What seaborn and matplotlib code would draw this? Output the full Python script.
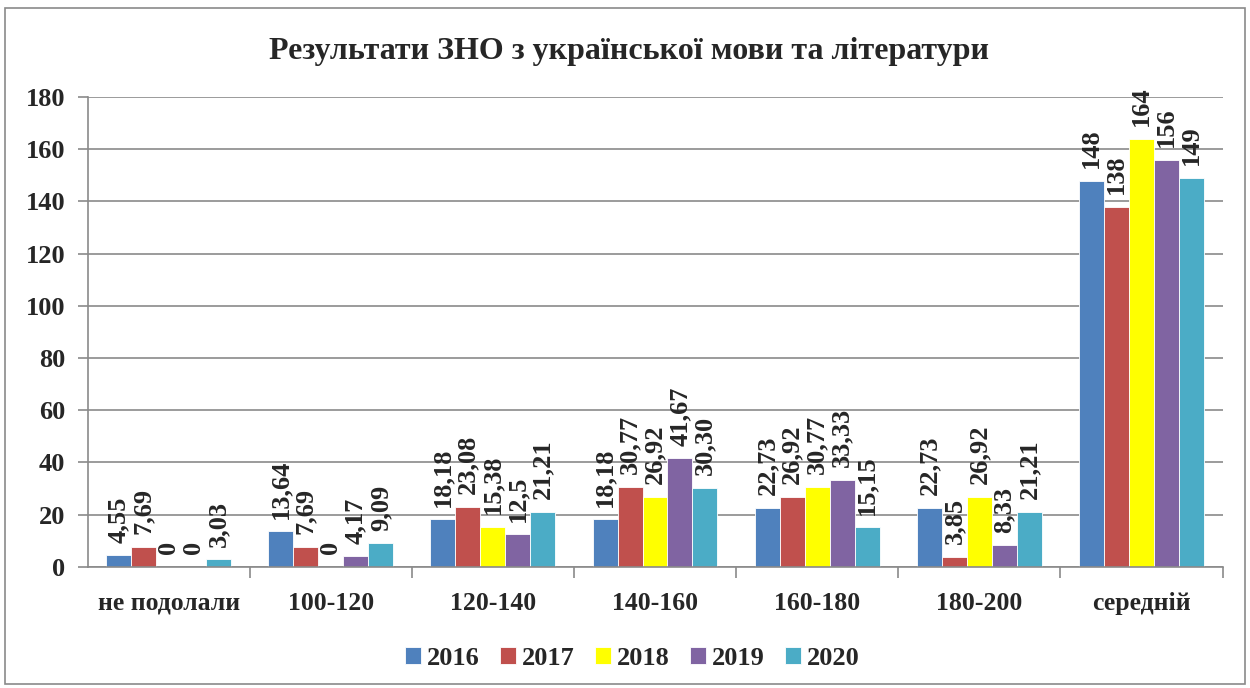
import matplotlib
matplotlib.use('Agg')
import matplotlib.pyplot as plt
from matplotlib.patches import Rectangle
from matplotlib.ticker import FixedLocator, NullFormatter
import seaborn as sns
import pandas as pd

# chart data
categories = ['не подолали', '100-120', '120-140', '140-160', '160-180', '180-200', 'середній']
years = ['2016', '2017', '2018', '2019', '2020']

values_2016 = [4.55, 13.64, 18.18, 18.18, 22.73, 22.73, 148]
values_2017 = [7.69, 7.69, 23.08, 30.77, 26.92, 3.85, 138]
values_2018 = [0, 0, 15.38, 26.92, 30.77, 26.92, 164]
values_2019 = [0, 4.17, 12.5, 41.67, 33.33, 8.33, 156]
values_2020 = [3.03, 9.09, 21.21, 30.30, 15.15, 21.21, 149]

labels_2016 = ['4,55', '13,64', '18,18', '18,18', '22,73', '22,73', '148']
labels_2017 = ['7,69', '7,69', '23,08', '30,77', '26,92', '3,85', '138']
labels_2018 = ['0', '0', '15,38', '26,92', '30,77', '26,92', '164']
labels_2019 = ['0', '4,17', '12,5', '41,67', '33,33', '8,33', '156']
labels_2020 = ['3,03', '9,09', '21,21', '30,30', '15,15', '21,21', '149']

colors = ['#4F81BD', '#C0504D', '#FFFF00', '#8064A2', '#4BACC6']

all_values = [values_2016, values_2017, values_2018, values_2019, values_2020]
all_labels = [labels_2016, labels_2017, labels_2018, labels_2019, labels_2020]

rows = []
for year, vals in zip(years, all_values):
    for cat, v in zip(categories, vals):
        rows.append({'category': cat, 'year': year, 'value': v})
df = pd.DataFrame(rows)

sns.set_theme(style='white')
plt.rcParams['font.family'] = ['Liberation Serif', 'DejaVu Serif']
plt.rcParams['font.weight'] = 'bold'

fig, ax = plt.subplots(figsize=(12.5, 6.88), dpi=100)
fig.subplots_adjust(left=0.070, right=0.978, bottom=0.176, top=0.859)

sns.barplot(data=df, x='category', y='value', hue='year', order=categories,
            hue_order=years, palette=colors, saturation=1, width=0.77,
            edgecolor='white', linewidth=0.6, ax=ax)

# data labels, rotated like the original
for cont, labs in zip(ax.containers, all_labels):
    ax.bar_label(cont, labels=labs, rotation=90, padding=9,
                 fontsize=19, fontweight='bold')

ax.set_ylim(0, 180)
ax.set_xlim(-0.5, len(categories) - 0.5)
ax.set_yticks(range(0, 181, 20))
ax.yaxis.grid(True, color='#8a8a8a', linewidth=1.2)
ax.set_axisbelow(True)

# category separators as tick marks
ax.xaxis.set_minor_locator(FixedLocator([i + 0.5 for i in range(len(categories))]))
ax.xaxis.set_minor_formatter(NullFormatter())
ax.tick_params(axis='x', which='major', length=0, pad=18, labelsize=18.5)
ax.tick_params(axis='x', which='minor', length=8, width=1.2, color='#8a8a8a',
               direction='out', bottom=True)
ax.tick_params(axis='y', length=7, width=1.2, color='#8a8a8a', direction='out',
               left=True, labelsize=19, pad=9)

for side in ['top', 'right']:
    ax.spines[side].set_visible(False)
for side in ['left', 'bottom']:
    ax.spines[side].set_color('#8a8a8a')
    ax.spines[side].set_linewidth(1.2)

ax.set_xlabel('')
ax.set_ylabel('')
fig.suptitle('Результати ЗНО з української мови та літератури',
             fontsize=23, fontweight='bold', x=0.503, y=0.946)

sns.move_legend(ax, 'lower center', bbox_to_anchor=(0.506, -0.008),
                bbox_transform=fig.transFigure, ncol=5, frameon=False,
                title=None, fontsize=19, handlelength=0.6, handleheight=0.6,
                handletextpad=0.25, columnspacing=0.75)

# outer chart border
fig.patches.append(Rectangle((0.004, 0.006), 0.992, 0.982, transform=fig.transFigure,
                             fill=False, edgecolor='#8a8a8a', linewidth=1.2))

fig.savefig('out.png', dpi=100)
